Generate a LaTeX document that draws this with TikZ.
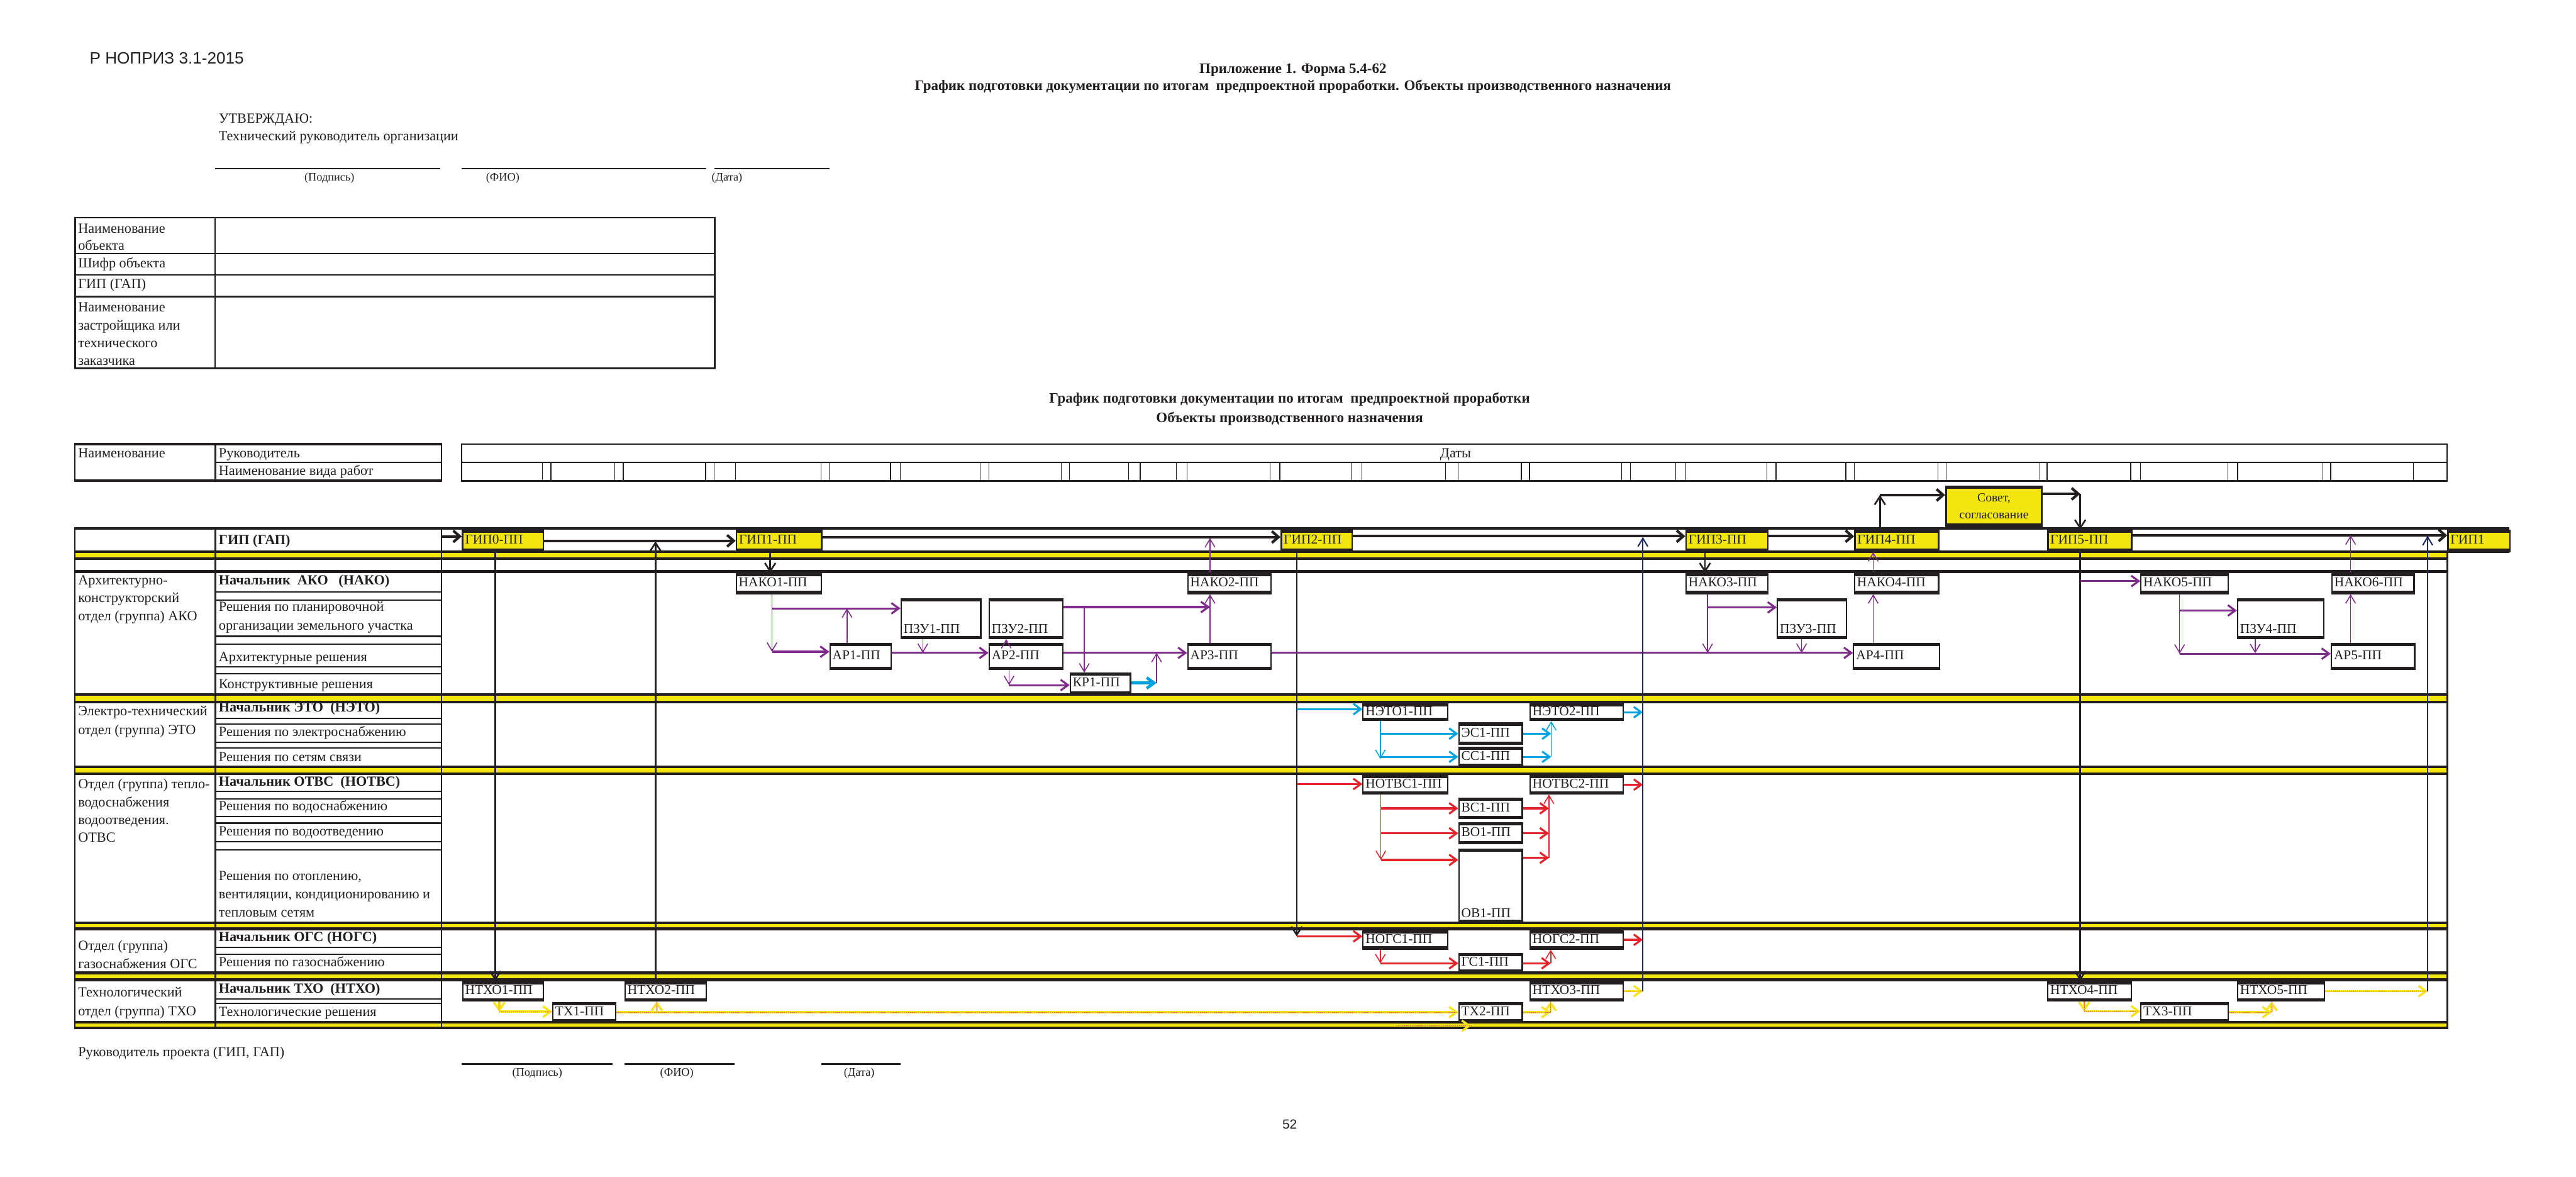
\documentclass[tikz,border=0pt]{standalone}
\usepackage{fontspec}
\setmainfont{Liberation Serif}
\newfontfamily\grsans{Liberation Sans}
\usetikzlibrary{arrows.meta}
\definecolor{grInk}{HTML}{231F20}
\definecolor{grYellow}{HTML}{F2E60E}
\definecolor{grPurple}{HTML}{7F2B8C}
\definecolor{grCyan}{HTML}{00A3E0}
\definecolor{grRed}{HTML}{E52229}
\definecolor{grNavy}{HTML}{1F2B5E}
\definecolor{grGold}{HTML}{F7E31A}
\definecolor{grDot}{HTML}{E9585B}
\tikzset{
  gr diagram/.style={x=1pt, y=-1pt, font=\fontsize{8.5}{10.9}\selectfont,
    text=grInk, line cap=butt},
  gr rule/.style={draw=grInk, line width=0.8pt},
  gr heavy/.style={draw=grInk, line width=1.6pt},
  gr text/.style={anchor=west, inner sep=0pt, text height=6pt, text depth=2pt},
  gr head/.style={gr text, font=\bfseries\fontsize{8.5}{10.9}\selectfont},
  gr multi/.style={anchor=west, inner sep=0pt, align=left},
  gr small/.style={font=\fontsize{7}{8}\selectfont, inner sep=0pt},
  gr title/.style={font=\bfseries\fontsize{8.8}{10}\selectfont, inner sep=0pt},
  gr box/.style={draw=grInk, fill=white, line width=0.8pt, inner xsep=1.5pt,
    inner ysep=0pt, align=left, text height=6pt, text depth=2pt,
    font=\fontsize{8.2}{10}\selectfont,
    path picture={\draw[grInk, line width=3.2pt]
      (path picture bounding box.north west) -- (path picture bounding box.north east)
      (path picture bounding box.south west) -- (path picture bounding box.south east);}},
  gr gip/.style={gr box, fill=grYellow, line width=1pt},
  gr low/.style={text height=#1},
  cell at/.style n args={4}{anchor=north west, at={(#1,#2)},
    minimum width={#3-#1}, text width={#3-#1-3}, minimum height={#4-#2}},
  ako thin/.style={draw=grPurple, line width=0.6pt, -{Straight Barb[length=5pt,width=6pt]}},
  ako flow/.style={draw=grPurple, line width=1.2pt, -{Straight Barb[length=4.5pt,width=6.5pt]}},
  eto thin/.style={draw=grCyan, line width=0.6pt, -{Straight Barb[length=5pt,width=6pt]}},
  eto flow/.style={draw=grCyan, line width=1.2pt, -{Straight Barb[length=4.5pt,width=6.5pt]}},
  otv thin/.style={draw=grRed, line width=0.6pt, -{Straight Barb[length=5pt,width=6pt]}},
  otv flow/.style={draw=grRed, line width=1.2pt, -{Straight Barb[length=4.5pt,width=6.5pt]}},
  txo flow/.style={draw=grGold, line width=1.3pt, -{Straight Barb[length=4.5pt,width=6.5pt]},
    postaction={-, draw=grDot, line width=0.3pt, dash pattern=on 0.6pt off 0.6pt}},
  gip flow/.style={draw=grInk, line width=1.6pt, -{Straight Barb[length=4pt,width=7pt]}},
  gip drop/.style={draw=grInk, line width=1pt, -{Straight Barb[length=5pt,width=6.5pt]}},
  navy link/.style={draw=grNavy, line width=0.8pt, -{Straight Barb[length=5pt,width=6pt]}}
}
\begin{document}
\begin{tikzpicture}[gr diagram]
\useasboundingbox (0,0) rectangle (1568,716);
% page head
\node[font=\grsans\fontsize{10}{12}\selectfont, inner sep=0pt] (doc code) at (101.5,35.3) {Р НОПРИЗ 3.1-2015};
\node[gr title] (form no) at (787,42.5) {Приложение 1. Форма 5.4-62};
\node[gr title] (form name) at (787,52.9) {График подготовки документации по итогам\ \ предпроектной проработки. Объекты производственного назначения};
\node[gr text] (approve) at (133,72.7) {УТВЕРЖДАЮ:};
\node[gr text] (approver) at (133,83.4) {Технический руководитель организации};
\draw[gr rule] (131,102.6) -- (268,102.6) (281,102.6) -- (430,102.6) (435,102.6) -- (505,102.6);
\node[gr small] (sign top) at (200.5,108.3) {(Подпись)};
\node[gr small] (fio top) at (306,108.3) {(ФИО)};
\node[gr small] (date top) at (442.5,108.3) {(Дата)};
% object table
\draw[gr rule, line width=1pt] (45.8,132.4) rectangle (435,224.2);
\foreach \y in {154.3,167.3,180.4}
  \draw[gr rule, line width=1pt] (45.8,\y) -- (435,\y);
\draw[gr rule] (131,132.4) -- (131,224.2);
\node[gr multi] (obj name) at (47.4,144.3) {Наименование\\[-0.3pt]объекта};
\node[gr text] (obj code) at (47.4,161) {Шифр объекта};
\node[gr text] (obj gip) at (47.4,173.5) {ГИП (ГАП)};
\node[gr multi] (obj client) at (47.4,203.3) {Наименование\\застройщика или\\технического\\заказчика};
\node[gr title] (chart title) at (785,243) {График подготовки документации по итогам\ \ предпроектной проработки};
\node[gr title] (chart sub) at (785,255) {Объекты производственного назначения};
% chart head
\draw[gr heavy] (45,270.3) -- (269.3,270.3) (45,292.6) -- (269.3,292.6);
\draw[gr rule, line width=1pt] (45.5,270.3) -- (45.5,292.6) (131.1,270.3) -- (131.1,292.6)
  (268.8,270.3) -- (268.8,292.6);
\draw[gr rule] (131.1,281.3) -- (268.8,281.3);
\node[gr text] (head name) at (47.4,276.5) {Наименование};
\node[gr text] (head lead) at (133,276.5) {Руководитель};
\node[gr text] (head work) at (133,287.3) {Наименование вида работ};
\draw[gr rule, line width=0.9pt] (281.1,270.3) rectangle (1489.6,292.7);
\draw[gr rule, line width=0.9pt] (281.1,281.3) -- (1489.6,281.3);
\foreach \x in {330.3,335.3,374.3,379.4,429.5,434.6,447.8,499.7,504.7,542,548,596.5,602,
    646,651,687,694,716,722.6,773,779,822.5,829,880,887.5,926,931,987,992.5,1020,1026,
    1075.5,1081,1123.5,1128.6,1179.6,1184.6,1241.7,1246,1297,1303,1356,1362,1414,1418.7,1469}
  \draw[gr rule, line width=0.5pt] (\x,281.3) -- (\x,292.7);
\node[gr text, anchor=center] (dates) at (886,276.5) {Даты};
% chart grid
\draw[gr heavy] (45,321.4) -- (1527.3,321.4) (45,335.7) -- (1527.3,335.7);
\foreach \ya/\yb in {335.7/340.0,422.5/427.2,466.6/470.8,561.5/565.2,592.0/596.2,622.1/625.5}{
  \fill[grYellow] (45.5,\ya) rectangle (1489.6,\yb);
  \draw[gr heavy] (45,\ya) -- (1489.6,\ya) (45,\yb) -- (1489.6,\yb);
}
\draw[gr heavy] (45,347.8) -- (1489.6,347.8);
\foreach \y in {360.2,365.1,387.2,392.1,405.9,410.1,437.1,440.5,451.6,455.1,
    481.7,486,496.9,500.9,512.3,517.1,576.4,580.6,608,610.6}
  \draw[gr rule] (131.1,\y) -- (268.8,\y);
\draw[gr rule, line width=1pt] (45.5,320.6) -- (45.5,626.3) (131.1,320.6) -- (131.1,626.3)
  (268.8,320.6) -- (268.8,626.3) (1489.6,335.7) -- (1489.6,626.3);
% row labels
\node[gr head] (gip lead) at (133,329.5) {ГИП (ГАП)};
\node[gr multi] (ako dept) at (47.4,364.8) {Архитектурно-\\конструкторский\\отдел (группа) АКО};
\node[gr head] (ako lead) at (133,354) {Начальник\ \ АКО\ \ \ (НАКО)};
\node[gr multi] (ako pzu) at (133,375.6) {Решения по планировочной\\[0.6pt]организации земельного участка};
\node[gr text] (ako ar) at (133,400.4) {Архитектурные решения};
\node[gr text] (ako kr) at (133,417) {Конструктивные решения};
\node[gr multi] (eto dept) at (47.4,439.2) {Электро-технический\\[0.6pt]отдел (группа) ЭТО};
\node[gr head] (eto lead) at (133,431.3) {Начальник ЭТО\ \ (НЭТО)};
\node[gr text] (eto es) at (133,446.1) {Решения по электроснабжению};
\node[gr text] (eto ss) at (133,461.4) {Решения по сетям связи};
\node[gr multi] (otv dept) at (47.4,493.3) {Отдел (группа) тепло-\\водоснабжения\\водоотведения.\\ОТВС};
\node[gr head] (otv lead) at (133,476.2) {Начальник ОТВС\ \ (НОТВС)};
\node[gr text] (otv vs) at (133,491.4) {Решения по водоснабжению};
\node[gr text] (otv vo) at (133,506.5) {Решения по водоотведению};
\node[gr multi] (otv ov) at (133,544.2) {Решения по отоплению,\\[0.2pt]вентиляции, кондиционированию и\\[0.2pt]тепловым сетям};
\node[gr multi] (ogs dept) at (47.4,580.8) {Отдел (группа)\\газоснабжения ОГС};
\node[gr head] (ogs lead) at (133,570.7) {Начальник ОГС (НОГС)};
\node[gr text] (ogs gs) at (133,586.3) {Решения по газоснабжению};
\node[gr multi] (txo dept) at (47.4,610.2) {Технологический\\[0.5pt]отдел (группа) ТХО};
\node[gr head] (txo lead) at (133,602.2) {Начальник ТХО\ \ (НТХО)};
\node[gr text] (txo tx) at (133,616.4) {Технологические решения};
% gip boxes
\node[gr gip, cell at={281.1}{322.2}{330.3}{335.0}] (gip0) {ГИП0-ПП};
\node[gr gip, cell at={447.8}{322.2}{499.7}{335.0}] (gip1) {ГИП1-ПП};
\node[gr gip, cell at={779.4}{322.2}{822.5}{335.0}] (gip2) {ГИП2-ПП};
\node[gr gip, cell at={1025.8}{322.2}{1075.5}{335.0}] (gip3) {ГИП3-ПП};
\node[gr gip, cell at={1128.6}{322.2}{1179.6}{335.0}] (gip4) {ГИП4-ПП};
\node[gr gip, cell at={1246.0}{322.2}{1297.0}{335.0}] (gip5) {ГИП5-ПП};
\node[gr gip, cell at={1489.6}{322.2}{1527.3}{335.0}] (gipend) {ГИП1};
\node[gr gip, cell at={1184.0}{295.5}{1242.4}{319.7}, align=center, text height={}, text depth={},
  font=\fontsize{7.5}{10.4}\selectfont] (sovet) {Совет,\\согласование};
% ako boxes
\node[gr box, cell at={447.8}{348.5}{499.7}{360.8}] (nako1) {НАКО1-ПП};
\node[gr box, cell at={722.6}{348.5}{773.4}{360.8}] (nako2) {НАКО2-ПП};
\node[gr box, cell at={1025.9}{348.5}{1075.5}{360.8}] (nako3) {НАКО3-ПП};
\node[gr box, cell at={1128.5}{348.5}{1179.6}{360.8}] (nako4) {НАКО4-ПП};
\node[gr box, cell at={1302.8}{348.5}{1355.9}{360.8}] (nako5) {НАКО5-ПП};
\node[gr box, cell at={1419.0}{348.5}{1469.0}{360.8}] (nako6) {НАКО6-ПП};
\node[gr box, gr low=19.3pt, cell at={548.1}{364.1}{596.6}{388.1}] (pzu1) {ПЗУ1-ПП};
\node[gr box, gr low=19.3pt, cell at={601.7}{364.1}{646.4}{388.1}] (pzu2) {ПЗУ2-ПП};
\node[gr box, gr low=19.3pt, cell at={1081.5}{364.1}{1123.5}{388.1}] (pzu3) {ПЗУ3-ПП};
\node[gr box, gr low=19.3pt, cell at={1361.6}{364.1}{1414.0}{388.1}] (pzu4) {ПЗУ4-ПП};
\node[gr box, cell at={504.8}{391.3}{542.0}{406.8}] (ar1) {АР1-ПП};
\node[gr box, cell at={601.7}{391.3}{646.4}{406.8}] (ar2) {АР2-ПП};
\node[gr box, cell at={722.6}{391.3}{773.4}{406.8}] (ar3) {АР3-ПП};
\node[gr box, cell at={1127.9}{391.3}{1180.3}{406.8}] (ar4) {АР4-ПП};
\node[gr box, cell at={1418.7}{391.3}{1469.4}{406.8}] (ar5) {АР5-ПП};
\node[gr box, cell at={651.1}{409.3}{687.7}{421.8}] (kr1) {КР1-ПП};
% eto boxes
\node[gr box, cell at={829.3}{428.0}{880.8}{438.0}] (neto1) {НЭТО1-ПП};
\node[gr box, cell at={931.0}{428.0}{987.6}{438.0}] (neto2) {НЭТО2-ПП};
\node[gr box, cell at={887.6}{439.6}{926.2}{452.5}] (es1) {ЭС1-ПП};
\node[gr box, cell at={887.6}{454.4}{926.2}{465.9}] (ss1) {СС1-ПП};
% otvs boxes
\node[gr box, cell at={829.3}{471.5}{880.8}{482.7}] (notvs1) {НОТВС1-ПП};
\node[gr box, cell at={931.0}{471.5}{987.6}{482.7}] (notvs2) {НОТВС2-ПП};
\node[gr box, cell at={887.6}{485.4}{926.2}{497.6}] (vs1) {ВС1-ПП};
\node[gr box, cell at={887.6}{500.3}{926.2}{513.0}] (vo1) {ВО1-ПП};
\node[gr box, gr low=41.2pt, cell at={887.6}{516.3}{926.2}{560.7}] (ov1) {ОВ1-ПП};
% ogs boxes
\node[gr box, cell at={829.3}{565.9}{880.8}{577.1}] (nogs1) {НОГС1-ПП};
\node[gr box, cell at={931.0}{565.9}{987.6}{577.1}] (nogs2) {НОГС2-ПП};
\node[gr box, cell at={887.6}{579.8}{926.2}{591.2}] (gs1) {ГС1-ПП};
% txo boxes
\node[gr box, cell at={281.2}{596.9}{330.3}{608.6}] (ntxo1) {НТХО1-ПП};
\node[gr box, cell at={380.1}{596.9}{429.6}{608.6}] (ntxo2) {НТХО2-ПП};
\node[gr box, cell at={931.0}{596.9}{987.6}{608.6}] (ntxo3) {НТХО3-ПП};
\node[gr box, cell at={1246.1}{596.9}{1297.1}{608.6}] (ntxo4) {НТХО4-ПП};
\node[gr box, cell at={1361.6}{596.9}{1414.6}{608.6}] (ntxo5) {НТХО5-ПП};
\node[gr box, cell at={336.1}{609.8}{374.4}{621.3}] (tx1) {ТХ1-ПП};
\node[gr box, cell at={887.6}{609.8}{926.2}{621.3}] (tx2) {ТХ2-ПП};
\node[gr box, cell at={1302.8}{609.8}{1355.9}{621.3}] (tx3) {ТХ3-ПП};
% gip chain
\coordinate (gip in) at (268.8,326.4);
\draw[gip flow] (gip in) -- (gip in -| gip0.west);
\draw[gip flow] (gip0.east) -- (gip1.west);
\draw[gip flow] ([yshift=2.3]gip1.east) -- ([yshift=2.3]gip2.west);
\draw[gip flow] ([yshift=2.8]gip2.east) -- ([yshift=2.8]gip3.west);
\draw[gip flow] ([yshift=2.8]gip3.east) -- ([yshift=2.8]gip4.west);
\draw[gip flow] ([yshift=3.3]gip5.east) -- ([yshift=3.3]gipend.west);
\coordinate (k1) at (301.5,0);
\draw[gip drop] (k1 |- gip0.south) -- (k1 |- ntxo1.north);
\coordinate (k2) at (399,329.4);
\draw[gip drop] (k2 |- ntxo2.north) -- (k2);
\coordinate (k3) at (468.8,0);
\draw[gip drop] (k3 |- gip1.south) -- (k3 |- nako1.north);
\coordinate (k4) at (789.3,569.8);
\draw[gip drop] (k4 |- gip2.south) -- (k4);
\coordinate (k5) at (1037.8,0);
\draw[gip drop] (k5 |- gip3.south) -- (k5 |- nako3.north);
\coordinate (k6) at (1144.3,301.2);
\draw[gip drop] (k6 |- gip4.north) -- (k6);
\draw[gip flow] (k6) -- (k6 -| sovet.west);
\coordinate (k7) at (1266.2,300.5);
\draw[gip flow] (sovet.east |- k7) -- (k7);
\draw[gip drop] (k7) -- (k7 |- gip5.north);
\draw[gip drop] (k7 |- gip5.south) -- (k7 |- ntxo4.north);
\coordinate (n1) at (1000,326.8);
\coordinate (n2) at (1477.7,326.0);
% ako flows
\coordinate (a1) at (469.9,370.2);
\coordinate (a2) at (469.9,396.6);
\draw[ako thin] (a1 |- nako1.south) -- (a2);
\draw[ako flow] (a1) -- (a1 -| pzu1.west);
\draw[ako flow] (a2) -- (a2 -| ar1.west);
\coordinate (a3) at (515.6,370.2);
\draw[ako thin] (a3 |- ar1.north) -- (a3);
\coordinate (a4) at (561.7,397.3);
\draw[ako thin] (a4 |- pzu1.south) -- (a4);
\draw[ako flow] (ar1.east |- a4) -- (a4 -| ar2.west);
\coordinate (a5) at (612.5,0);
\draw[ako thin] (a5 |- ar2.north) -- (a5 |- pzu2.south);
\coordinate (a6) at (736.5,369.4);
\draw[ako flow] (pzu2.east |- a6) -- (a6);
\draw[ako thin] (a6 |- ar3.north) -- (a6 |- nako2.south);
\coordinate (a7) at (736.5,327.4);
\draw[ako thin] (a6 |- nako2.north) -- (a7);
\coordinate (a8) at (660,369.4);
\draw[ako thin] (a8) -- (a8 |- kr1.north);
\draw[ako flow] (ar2.east |- a4) -- (a4 -| ar3.west);
\coordinate (a9) at (614.2,416.9);
\draw[ako thin] (a9 |- ar2.south) -- (a9);
\draw[ako flow] (a9) -- (a9 -| kr1.west);
\coordinate (a10) at (704,415.6);
\draw[eto flow, line width=1.8pt] (kr1.east |- a10) -- (a10);
\draw[ako thin] (a10) -- (a10 |- a4);
\draw[ako flow] (ar3.east |- a4) -- (a4 -| ar4.west);
\coordinate (a11) at (1039.4,369.6);
\draw[ako thin] (a11 |- nako3.south) -- (a11 |- a4);
\draw[ako flow] (a11) -- (a11 -| pzu3.west);
\coordinate (a12) at (1096.6,0);
\draw[ako thin] (a12 |- pzu3.south) -- (a12 |- a4);
\coordinate (a13) at (1140.2,0);
\draw[ako thin] (a13 |- ar4.north) -- (a13 |- nako4.south);
\draw[ako thin] (a13 |- nako4.north) -- (a13 |- gip4.south);
\coordinate (a14) at (1266.2,353.6);
\draw[ako flow] (a14) -- (a14 -| nako5.west);
\coordinate (a15) at (1326.7,371.5);
\coordinate (a16) at (1326.7,397.8);
\draw[ako thin] (a15 |- nako5.south) -- (a16);
\draw[ako flow] (a15) -- (a15 -| pzu4.west);
\coordinate (a17) at (1372.7,397.5);
\draw[ako thin] (a17 |- pzu4.south) -- (a17);
\draw[ako flow] (a16) -- (a16 -| ar5.west);
\coordinate (a18) at (1430.8,325.8);
\draw[ako thin] (a18 |- ar5.north) -- (a18 |- nako6.south);
\draw[ako thin] (a18 |- nako6.north) -- (a18);
% eto flows
\coordinate (e1) at (789.3,431.5);
\draw[eto flow] (e1) -- (e1 -| neto1.west);
\coordinate (e2) at (840.2,461.8);
\draw[eto thin] (e2 |- neto1.south) -- (e2);
\draw[eto flow] (e2 |- es1.west) -- (es1.west);
\draw[eto flow] (e2 |- ss1.west) -- (ss1.west);
\coordinate (e3) at (944.2,0);
\draw[eto flow] (es1.east) -- (es1.east -| e3);
\draw[eto flow] (ss1.east) -- (ss1.east -| e3);
\draw[eto thin] (ss1.east -| e3) -- (e3 |- neto2.south);
\draw[eto flow] (neto2.east) -- (neto2.east -| n1);
% otvs and ogs flows
\coordinate (o1) at (789.3,477.1);
\draw[otv flow] (o1) -- (o1 -| notvs1.west);
\coordinate (o2) at (840.5,523.3);
\draw[otv thin] (o2 |- notvs1.south) -- (o2);
\draw[otv flow] (o2 |- vs1.west) -- (vs1.west);
\draw[otv flow] (o2 |- vo1.west) -- (vo1.west);
\draw[otv flow] (o2) -- (o2 -| ov1.west);
\coordinate (o3) at (942.8,522);
\draw[otv flow] (vs1.east) -- (vs1.east -| o3);
\draw[otv flow] (vo1.east) -- (vo1.east -| o3);
\draw[otv flow] (ov1.east |- o3) -- (o3);
\draw[otv thin] (o3) -- (o3 |- notvs2.south);
\draw[otv flow] (notvs2.east) -- (notvs2.east -| n1);
\draw[otv flow] (k4) -- (k4 -| nogs1.west);
\coordinate (o4) at (840.2,586.2);
\draw[otv thin] (o4 |- nogs1.south) -- (o4);
\draw[otv flow] (o4) -- (o4 -| gs1.west);
\coordinate (o5) at (943.9,586.2);
\draw[otv flow] (gs1.east |- o5) -- (o5);
\draw[otv thin] (o5) -- (o5 |- nogs2.south);
\draw[otv flow] (nogs2.east) -- (nogs2.east -| n1);
% txo flows
\coordinate (t1) at (303.9,615.6);
\draw[txo flow] (t1 |- ntxo1.south) -- (t1);
\draw[txo flow] (t1) -- (t1 -| tx1.west);
\draw[txo flow] (tx1.east) -- (tx2.west);
\coordinate (t2) at (399.8,615.6);
\draw[txo flow] (t2) -- (t2 |- ntxo2.south);
\coordinate (t3) at (943.9,0);
\draw[txo flow] (tx2.east) -- (tx2.east -| t3);
\draw[txo flow] (tx2.east -| t3) -- (t3 |- ntxo3.south);
\draw[txo flow] (ntxo3.east) -- (ntxo3.east -| n1);
\draw[navy link] (ntxo3.east -| n1) -- (n1);
\coordinate (t4) at (1268.6,615.4);
\draw[txo flow] (t4 |- ntxo4.south) -- (t4);
\draw[txo flow] (t4) -- (t4 -| tx3.west);
\coordinate (t5) at (1382.7,0);
\draw[txo flow] (tx3.east) -- (tx3.east -| t5);
\draw[txo flow] (tx3.east -| t5) -- (t5 |- ntxo5.south);
\draw[txo flow] (ntxo5.east) -- (ntxo5.east -| n2);
\draw[navy link] (ntxo5.east -| n2) -- (n2);
\coordinate (t6) at (849.7,624.2);
\coordinate (t7) at (895.4,624.2);
\draw[txo flow] (t6) -- (t7);
% page foot
\node[gr text] (pm sign) at (47.4,641) {Руководитель проекта (ГИП, ГАП)};
\draw[gr rule] (281,647.5) -- (373,647.5) (380,647.5) -- (447,647.5) (500,647.5) -- (548,647.5);
\node[gr small] (sign low) at (327,653) {(Подпись)};
\node[gr small] (fio low) at (412,653) {(ФИО)};
\node[gr small] (date low) at (523,653) {(Дата)};
\node[font=\grsans\fontsize{8}{10}\selectfont, inner sep=0pt] (page no) at (785,684) {52};
\end{tikzpicture}
\end{document}
